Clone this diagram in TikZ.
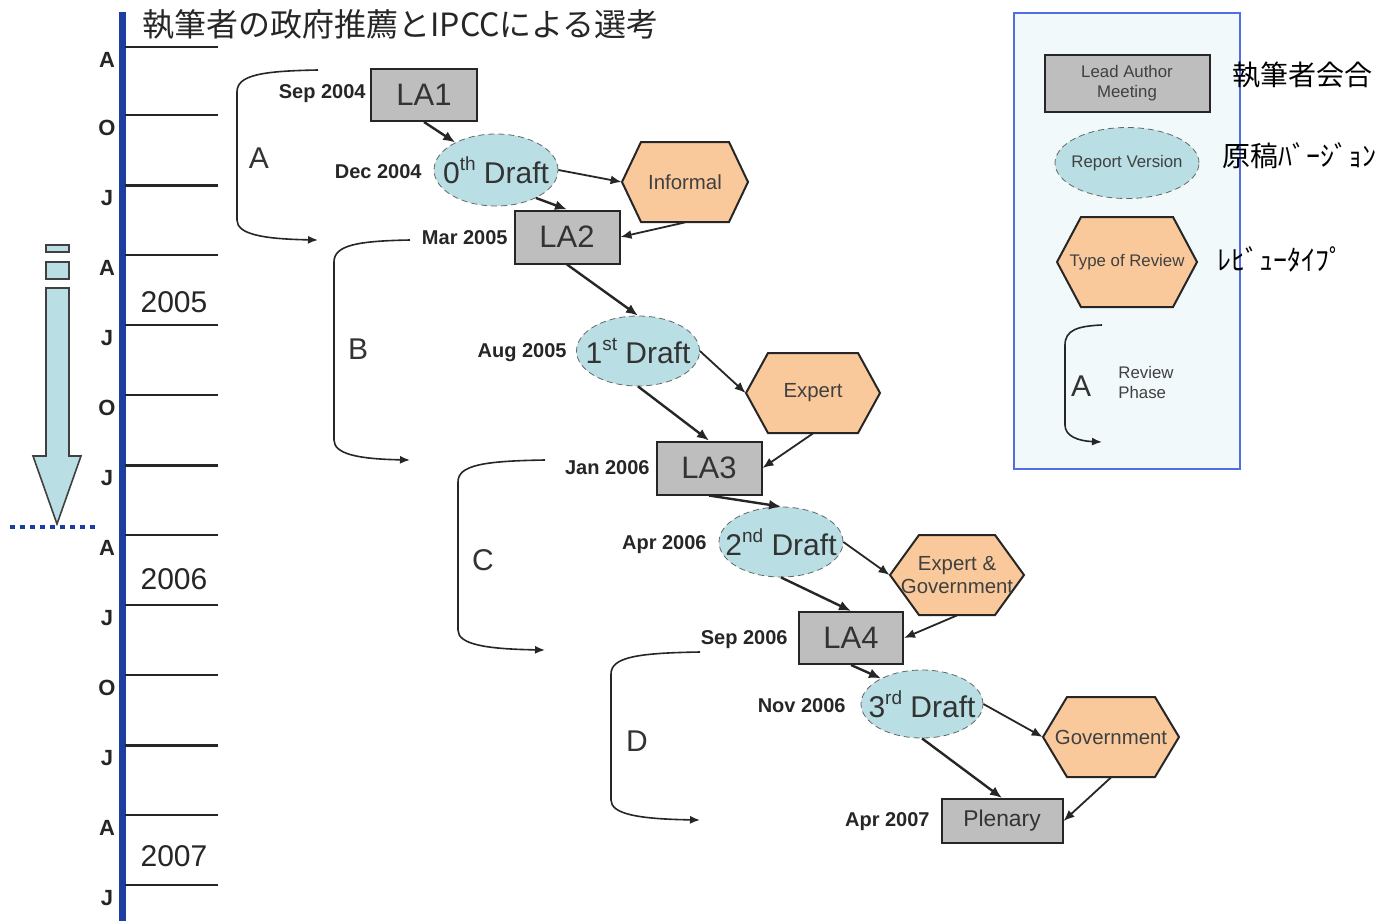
\documentclass[tikz,border=0pt]{standalone}
\usepackage{fontspec}
\setmainfont{Liberation Sans}
\newfontfamily\jpfont{Noto Sans CJK JP}
\usetikzlibrary{arrows.meta,shapes.geometric}
\definecolor{tlblue}{RGB}{28,62,160}
\definecolor{boxgray}{RGB}{190,190,190}
\definecolor{draftcyan}{RGB}{185,223,228}
\definecolor{hexpeach}{RGB}{249,201,155}
\definecolor{legfill}{RGB}{242,249,250}
\definecolor{legborder}{RGB}{80,110,225}
\newcommand\hexa[7]{%
  \draw[hexline] (#2-#4,#3) -- (#2-#4+#6,#3-#5) -- (#2+#4-#6,#3-#5) -- (#2+#4,#3) -- (#2+#4-#6,#3+#5) -- (#2-#4+#6,#3+#5) -- cycle;
  \node[hextext, minimum width=#4pt, minimum height=#5pt] (#1) at (#2,#3) {#7};}
\newcommand\ordsup[1]{\raisebox{0.42em}{\fontsize{9.5}{10}\selectfont #1}}
\begin{document}
\begin{tikzpicture}[x=0.5pt,y=-0.5pt,
  meet/.style={draw=black!85, fill=boxgray, line width=1pt, inner sep=0pt, text=black!80, font=\fontsize{15.5}{18}\selectfont},
  draft/.style={ellipse, draw=black!60, densely dashed, line width=0.4pt, fill=draftcyan, inner sep=0pt, text=black!80, font=\fontsize{15}{18}\selectfont},
  hexline/.style={draw=black!85, fill=hexpeach, line width=1pt, line join=miter},
  hextext/.style={inner sep=0pt, align=center, font=\fontsize{10.2}{11.5}\selectfont, text=black!75},
  date/.style={anchor=east, font=\bfseries\fontsize{10}{12}\selectfont, inner sep=0pt, text=black!85},
  month/.style={font=\bfseries\fontsize{11}{12}\selectfont, inner sep=0pt, text=black!85},
  year/.style={font=\fontsize{15}{16}\selectfont, inner sep=0pt, text=black!85},
  phaselbl/.style={font=\fontsize{15}{16}\selectfont, inner sep=0pt, text=black!80},
  flow/.style={line width=1.2pt, black!85, -{Latex[length=6pt,width=5pt]}},
  side/.style={line width=0.9pt, black!85, -{Latex[length=5.5pt,width=4.5pt]}},
  phase/.style={line width=0.8pt, black!85, -{Latex[length=5pt,width=4pt]}},
  legtext/.style={font=\fontsize{8.4}{10}\selectfont, inner sep=0pt, text=black!75},
  jplbl/.style={font=\jpfont\fontsize{14}{16}\selectfont, inner sep=0pt, anchor=west}
]
\useasboundingbox (0,0) rectangle (1380,921);
\fill[white] (0,0) rectangle (1380,921);

% ---- timeline ----
\draw[tlblue, line width=3.5pt] (122,12) -- (122,921);
\foreach \yy/\mm/\ww in {47/A/0.8, 115/O/0.8, 185/J/1.5, 255/A/0.8, 325/J/0.8, 395/O/0.8, 465/J/1.5, 535/A/0.8, 605/J/0.8, 675/O/0.8, 745/J/1.5, 815/A/0.8, 885/J/0.8}{
  \draw[black!85, line width=\ww pt] (125,\yy) -- (218,\yy);
  \node[month] (m\yy) at (107,\yy+13) {\mm};
}
\node[year] (y2005) at (174,302) {2005};
\node[year] (y2006) at (174,579) {2006};
\node[year] (y2007) at (174,856) {2007};

% ---- block arrow ----
\draw[black!75, fill=draftcyan, line width=0.8pt] (46,245) rectangle (69,252);
\draw[black!75, fill=draftcyan, line width=0.8pt] (46,262) rectangle (69,279);
\draw[black!75, fill=draftcyan, line width=0.8pt, line join=miter] (46,288) -- (69,288) -- (69,456) -- (81,456) -- (57,524) -- (33,456) -- (46,456) -- cycle;
\draw[tlblue, line width=2pt, dash pattern=on 2.5pt off 2.5pt] (10,527) -- (97,527);

% ---- title ----
\node[anchor=west, inner sep=0pt, font=\jpfont\fontsize{16}{18}\selectfont, text=black!85] (title) at (142,25) {執筆者の政府推薦とIPCCによる選考};

% ---- legend ----
\draw[legborder, fill=legfill, line width=1pt] (1014,13) rectangle (1240,469);
\node[meet, minimum width=82.5pt, minimum height=28.5pt, align=center, font=\fontsize{8.4}{10}\selectfont, text=black!75] (lgmeet) at (1127,83) {Lead Author\\Meeting};
\node[draft, minimum width=72pt, minimum height=35.5pt, font=\fontsize{8.4}{10}\selectfont, text=black!75] (lgdraft) at (1127,163) {\makebox[0pt]{Report Version}};
\hexa{lghex}{1127}{262}{70}{45}{24}{\fontsize{8.4}{10}\selectfont Type of Review}
\coordinate (lgs) at (1102,325);
\coordinate (lge) at (1102,442);
\draw[phase] (lgs) .. controls (1078,326) and (1065,330) .. (1065,345) -- (1065,425) .. controls (1065,436) and (1078,441) .. (lge);
\node[phaselbl] (lgA) at (1081,386) {A};
\node[legtext, anchor=west, align=left] (lgrp) at (1118,382) {Review\\Phase};
\node[jplbl] (jp1) at (1232,75) {執筆者会合};
\node[jplbl] (jp2) at (1222,156) {原稿ﾊﾞｰｼﾞｮﾝ};
\node[jplbl] (jp3) at (1217,259) {ﾚﾋﾞｭｰﾀｲﾌﾟ};

% ---- phase brackets ----
\coordinate (pAs) at (318,70);  \coordinate (pAe) at (318,240);
\coordinate (pBs) at (410,240); \coordinate (pBe) at (410,460);
\coordinate (pCs) at (545,460); \coordinate (pCe) at (545,650);
\coordinate (pDs) at (700,652); \coordinate (pDe) at (700,820);
\draw[phase] (pAs) .. controls (262,71) and (237,75) .. (237,92) -- (237,220) .. controls (237,234) and (262,239) .. (pAe);
\draw[phase] (pBs) .. controls (358,241) and (334,245) .. (334,262) -- (334,440) .. controls (334,454) and (358,459) .. (pBe);
\draw[phase] (pCs) .. controls (484,461) and (458,465) .. (458,482) -- (458,630) .. controls (458,644) and (484,649) .. (pCe);
\draw[phase] (pDs) .. controls (638,653) and (611,657) .. (611,674) -- (611,800) .. controls (611,814) and (638,819) .. (pDe);
\node[phaselbl] (lA) at (259,158) {A};
\node[phaselbl] (lB) at (358,349) {B};
\node[phaselbl] (lC) at (483,560) {C};
\node[phaselbl] (lD) at (637,741) {D};

% ---- main nodes ----
\node[meet, minimum width=53pt, minimum height=26pt] (la1) at (424,95) {LA1};
\node[date] (t1) at (366,94) {Sep 2004};
\node[draft, minimum width=62pt, minimum height=36pt] (d0) at (496,170) {\makebox[0pt]{0\ordsup{th} Draft}};
\node[date] (t2) at (422,172) {Dec 2004};
\hexa{inf}{685}{182}{63}{40}{19}{Informal}
\node[meet, minimum width=52.5pt, minimum height=26.5pt] (la2) at (567,237) {LA2};
\node[date] (t3) at (508,238) {Mar 2005};
\node[draft, minimum width=61.5pt, minimum height=35pt] (d1) at (638,351) {\makebox[0pt]{1\ordsup{st} Draft}};
\node[date] (t4) at (567,353) {Aug 2005};
\hexa{exp}{813}{393}{67}{40}{22}{Expert}
\node[meet, minimum width=52.5pt, minimum height=26.5pt] (la3) at (709,468) {LA3};
\node[date] (t5) at (650,468) {Jan 2006};
\node[draft, minimum width=62pt, minimum height=35pt] (d2) at (781,542) {\makebox[0pt]{2\ordsup{nd} Draft}};
\node[date] (t6) at (707,545) {Apr 2006};
\hexa{eg}{957}{575}{67}{40}{29}{Expert \&\\Government}
\node[meet, minimum width=52pt, minimum height=26pt] (la4) at (851,638) {LA4};
\node[date] (t7) at (788,640) {Sep 2006};
\node[draft, minimum width=61pt, minimum height=34pt] (d3) at (922,704) {\makebox[0pt]{3\ordsup{rd} Draft}};
\node[date] (t8) at (846,706) {Nov 2006};
\hexa{gov}{1111}{737}{68}{40}{24}{Government}
\node[meet, minimum width=60.5pt, minimum height=22pt, font=\fontsize{11.4}{13}\selectfont] (plen) at (1002,821) {Plenary};
\node[date] (t9) at (930,822) {Apr 2007};

% ---- flow arrows ----
\draw[flow] (la1.south) -- (d0.146);
\draw[side] (d0.east) -- (inf.west);
\draw[flow] (d0.-35) -- (la2.north);
\draw[side] (inf.south) -- (la2.east);
\draw[flow] (la2.south) -- (d1.north);
\draw[side] (d1.east) -- (exp.west);
\draw[flow] (d1.south) -- (la3.north);
\draw[side] (exp.south) -- (la3.east);
\draw[flow] (la3.south) -- (d2.north);
\draw[side] (d2.east) -- (eg.west);
\draw[flow] (d2.south) -- (la4.north);
\draw[side] (eg.south) -- (la4.east);
\draw[flow] (la4.south) -- (d3.148);
\draw[side] (d3.east) -- (gov.west);
\draw[flow] (d3.south) -- (plen.north);
\draw[side] (gov.south) -- (plen.east);
\end{tikzpicture}
\end{document}
